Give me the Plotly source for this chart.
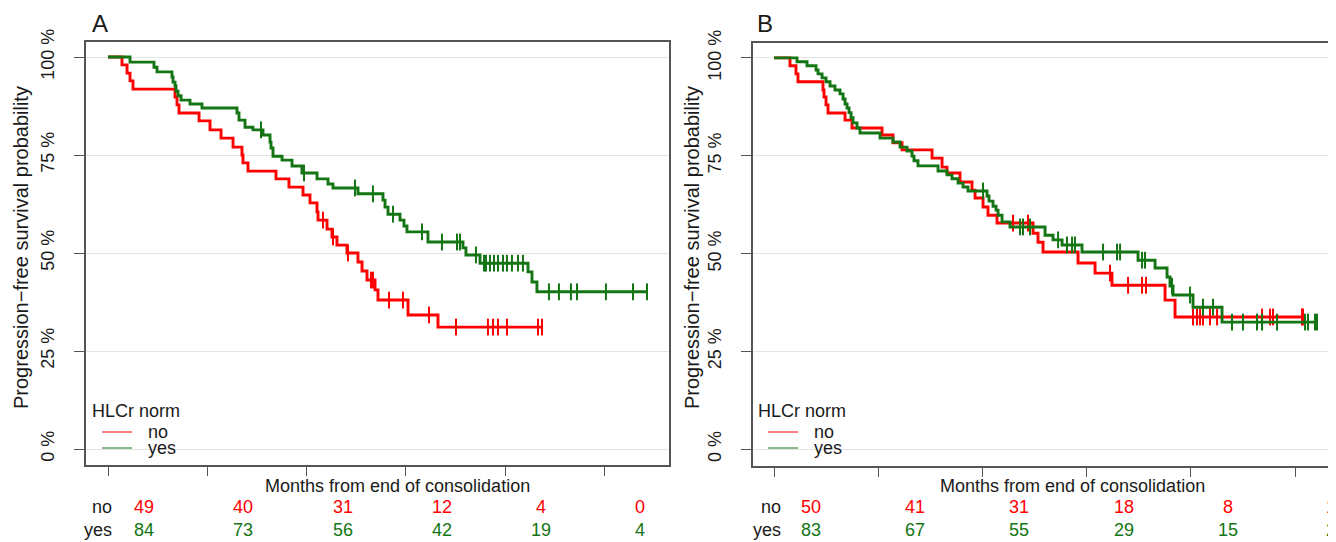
import plotly.graph_objects as go

W, H = 1336, 542
OFF = 8  # the page body margin offsets the figure by 8 px
FW, FH = 1372 - OFF, H - OFF  # panel B runs past the right edge of the window, as in the source

# ---------------- data ----------------
risk_times = [0, 12, 24, 36, 48, 60]
y_ticks = [0, 25, 50, 75, 100]
y_ticktext = ["0 %", "25 %", "50 %", "75 %", "100 %"]

# Panel A, HLCr norm = no
a_no_t = [1.69, 2.30, 2.66, 3.02, 8.10, 8.34, 8.58, 11.00, 12.33, 13.66, 15.11, 16.19, 16.31, 16.92,
          20.30, 21.87, 23.57, 24.41, 25.26, 25.38, 26.47, 27.07, 27.67, 28.88, 30.21, 30.70, 31.30,
          32.27, 32.63, 36.26, 39.88]
a_no_s = [98.0, 95.9, 93.9, 91.8, 89.8, 87.8, 85.7, 83.7, 81.4, 79.3, 77.0, 75.0, 73.0, 70.9,
          68.9, 66.8, 64.8, 62.8, 60.5, 58.4, 56.1, 54.1, 52.0, 50.0, 47.7, 45.4, 43.1,
          40.6, 38.0, 34.2, 31.1]
a_no_cens_t = [25.98, 27.19, 29.00, 31.78, 32.02, 33.96, 35.65, 38.79, 42.06, 45.92, 46.53, 47.13,
               48.22, 51.97, 52.45]
a_no_cens_s = [58.4, 54.1, 50.0, 43.1, 43.1, 38.0, 38.0, 34.2, 31.1, 31.1, 31.1, 31.1,
               31.1, 31.1, 31.1]

# Panel A, HLCr norm = yes
a_yes_t = [2.66, 5.56, 5.92, 7.73, 7.86, 8.10, 8.22, 8.46, 8.82, 9.91, 11.36, 15.59, 15.83, 16.56,
           17.52, 18.73, 19.58, 19.70, 19.94, 21.03, 22.24, 23.44, 25.26, 26.59, 27.19, 30.21,
           33.23, 33.48, 33.84, 35.29, 35.77, 36.13, 38.67, 42.90, 43.26, 44.96, 50.76, 51.24, 51.84]
a_yes_s = [98.7, 97.4, 96.2, 94.9, 93.6, 92.6, 91.3, 90.1, 89.0, 88.0, 87.0, 85.7, 83.9, 82.1,
           81.4, 80.1, 78.3, 76.8, 74.7, 73.7, 72.2, 70.4, 68.9, 67.6, 66.6, 65.1,
           63.5, 61.7, 59.9, 58.4, 56.9, 55.4, 52.8, 51.3, 49.5, 47.4, 45.2, 42.6, 40.1]
a_yes_cens_t = [18.49, 23.69, 29.85, 32.02, 34.44, 37.95, 40.36, 42.18, 42.54, 44.47,
                45.44, 45.68, 46.16, 46.65, 47.13, 47.74, 48.22, 48.82, 49.55, 50.15,
                53.29, 54.50, 55.95, 56.68, 60.18, 63.45, 65.14]
a_yes_cens_s = [81.4, 70.4, 66.6, 65.1, 59.9, 55.4, 52.8, 52.8, 52.8, 49.5,
                47.4, 47.4, 47.4, 47.4, 47.4, 47.4, 47.4, 47.4, 47.4, 47.4,
                40.1, 40.1, 40.1, 40.1, 40.1, 40.1, 40.1]

# Panel B, HLCr norm = no
b_no_t = [1.84, 2.53, 2.76, 5.64, 5.76, 5.99, 6.22, 8.18, 8.98, 12.44, 13.70, 14.74, 18.20, 19.35,
          19.92, 21.42, 22.80, 23.15, 24.07, 24.64, 25.68, 29.83, 30.40, 30.98, 35.01, 36.97,
          38.92, 45.03, 46.18]
b_no_s = [98.0, 95.9, 93.9, 91.8, 90.0, 88.0, 85.9, 84.1, 82.1, 80.3, 78.3, 76.5, 74.4, 72.1,
          70.6, 68.3, 66.2, 64.2, 61.9, 59.8, 57.8, 55.2, 52.9, 50.4, 47.6, 45.0,
          41.9, 38.1, 33.8]
b_no_cens_t = [27.52, 29.25, 38.69, 40.77, 42.38, 42.84, 48.25, 48.71, 49.06, 49.40, 50.21, 51.02,
               56.20, 57.12, 57.46, 60.80, 60.92]
b_no_cens_s = [57.8, 57.8, 45.0, 41.9, 41.9, 41.9, 33.8, 33.8, 33.8, 33.8, 33.8, 33.8,
               33.8, 33.8, 33.8, 33.8, 33.8]

# Panel B, HLCr norm = yes
b_yes_t = [2.65, 3.80, 4.84, 5.07, 5.53, 5.99, 6.45, 7.02, 7.60, 7.95, 8.18, 8.41, 8.64, 8.87,
           9.10, 9.56, 9.90, 12.21, 13.70, 14.51, 15.32, 15.89, 16.12, 16.58, 18.89, 19.92,
           20.50, 21.19, 21.77, 22.34, 24.53, 24.76, 25.22, 25.57, 25.80, 26.26, 27.18, 31.21,
           32.13, 33.17, 35.47, 41.92, 43.88, 45.26, 45.60, 45.95, 48.25, 51.59]
b_yes_s = [99.0, 98.0, 96.9, 95.9, 94.9, 93.9, 92.8, 91.8, 90.8, 89.5, 88.2, 87.2, 86.0, 84.7,
           83.4, 82.1, 80.8, 79.5, 78.5, 77.2, 76.2, 74.9, 73.7, 72.4, 71.1, 70.1,
           69.1, 68.0, 67.0, 66.0, 64.7, 63.4, 62.1, 61.1, 59.8, 58.1, 56.8, 54.7,
           53.5, 52.2, 50.4, 48.3, 46.3, 44.0, 41.7, 39.4, 36.3, 32.5]
b_yes_cens_t = [24.07, 28.33, 28.67, 29.48, 32.71, 33.74, 34.32, 34.66, 37.89, 39.50, 39.85,
                42.38, 42.72, 45.83, 47.90, 49.40, 50.55, 52.74, 54.01, 55.62, 56.20, 57.93,
                61.15, 61.49, 62.30, 62.53]
b_yes_cens_s = [66.0, 56.8, 56.8, 56.8, 53.5, 52.2, 52.2, 52.2, 50.4, 50.4, 50.4,
                48.3, 48.3, 41.7, 39.4, 36.3, 36.3, 32.5, 32.5, 32.5, 32.5, 32.5,
                32.5, 32.5, 32.5, 32.5]

# Numbers at risk
groups = ["no", "yes"]
a_risk_no = [49, 40, 31, 12, 4, 0]
a_risk_yes = [84, 73, 56, 42, 19, 4]
b_risk_no = [50, 41, 31, 18, 8, 1]
b_risk_yes = [83, 67, 55, 29, 15, 2]

# ---------------- style ----------------
RED = "#ff0000"
GREEN = "#137513"
FONT = "Liberation Sans, Arial, Helvetica, sans-serif"
FS = 18
BOX = "#555555"
GRID = "#e4e4e4"
TXT = "#1a1a1a"


def px(x):
    return (x - OFF) / FW


def py(y):
    return 1 - (y - OFF) / FH


fig = go.Figure()


def add_curve(t, s, ct, cs, color, xa, ya):
    end = max(ct[-1], t[-1])
    xs = [0] + list(t) + [end]
    ys = [100] + list(s) + [s[-1]]
    fig.add_trace(go.Scatter(x=xs, y=ys, mode="lines", line=dict(color=color, width=2.9, shape="hv"),
                             xaxis=xa, yaxis=ya, showlegend=False, hoverinfo="skip"))
    fig.add_trace(go.Scatter(x=ct, y=cs, mode="markers",
                             marker=dict(symbol="line-ns-open", size=12, color=color,
                                         line=dict(color=color, width=2)),
                             xaxis=xa, yaxis=ya, showlegend=False, hoverinfo="skip"))


add_curve(a_no_t, a_no_s, a_no_cens_t, a_no_cens_s, RED, "x", "y")
add_curve(a_yes_t, a_yes_s, a_yes_cens_t, a_yes_cens_s, GREEN, "x", "y")
add_curve(b_no_t, b_no_s, b_no_cens_t, b_no_cens_s, RED, "x2", "y2")
add_curve(b_yes_t, b_yes_s, b_yes_cens_t, b_yes_cens_s, GREEN, "x2", "y2")

xaxis_common = dict(tickvals=risk_times, showticklabels=False, ticks="outside", ticklen=9,
                    tickcolor=BOX, tickwidth=1.2, showgrid=False, zeroline=False,
                    showline=True, linecolor=BOX, linewidth=1.5, mirror=True, automargin=False)
yaxis_common = dict(tickvals=y_ticks, ticktext=y_ticktext, tickangle=-90, ticks="outside",
                    ticklen=10, tickcolor=BOX, tickwidth=1.2, showgrid=True, gridcolor=GRID,
                    gridwidth=1, zeroline=False, showline=True, linecolor=BOX, linewidth=1.5,
                    tickfont=dict(size=FS, color=TXT, family=FONT), ticklabelstandoff=13,
                    automargin=False, mirror=True)

fig.update_layout(
    width=FW, height=FH, margin=dict(l=0, r=0, t=0, b=0, autoexpand=False),
    paper_bgcolor="white", plot_bgcolor="white",
    font=dict(family=FONT, size=FS, color=TXT),
    xaxis=dict(domain=[px(86), px(669)], range=[-2.66, 67.8], anchor="y", **xaxis_common),
    yaxis=dict(domain=[py(465), py(42)], range=[-4.08, 103.83], anchor="x", **yaxis_common),
    xaxis2=dict(domain=[px(753), px(1364)], range=[-2.42, 67.94], anchor="y2", **xaxis_common),
    yaxis2=dict(domain=[py(466), py(43)], range=[-4.27, 103.8], anchor="x2", **yaxis_common),
)

ann = []


def text(x, y, s, size=FS, color=TXT, xanchor="center", xref="paper", xshift=0, angle=0):
    ann.append(dict(x=x, y=y, xref=xref, yref="paper", text=s, showarrow=False,
                    font=dict(size=size, color=color, family=FONT), xanchor=xanchor,
                    yanchor="middle", xshift=xshift, textangle=angle))


panels = [
    dict(label="A", lab_x=90, ylab_x=21, xt_x=397.5, xref="x", risk=(a_risk_no, a_risk_yes),
         rl_x=114, leg_x=90, line_x0=102, line_x1=132, leg_tx=146, shift=36),
    dict(label="B", lab_x=755, ylab_x=692, xt_x=1072.5, xref="x2", risk=(b_risk_no, b_risk_yes),
         rl_x=783, leg_x=756, line_x0=768, line_x1=798, leg_tx=812, shift=37),
]

shapes = []
for p in panels:
    text(px(p["lab_x"]), py(24), p["label"], size=24, xanchor="left")
    text(px(p["ylab_x"]), py(248), "Progression\u2212free survival probability", size=20, angle=-90)
    text(px(p["xt_x"]), py(486), "Months from end of consolidation")
    for row, (g, vals, col) in enumerate(zip(groups, p["risk"], [RED, GREEN])):
        yy = py(507 + row * 23)
        text(px(p["rl_x"]), yy, g, xanchor="right")
        for t, v in zip(risk_times, vals):
            # the last column of panel B sits right at the window edge
            if p["label"] == "B" and t == risk_times[-1]:
                text(t, yy, str(v), color=col, xref=p["xref"], xanchor="left", xshift=p["shift"] - 8)
            else:
                text(t, yy, str(v), color=col, xref=p["xref"], xshift=p["shift"])
    # legend
    text(px(p["leg_x"]), py(411), "HLCr norm", xanchor="left")
    for row, (g, col) in enumerate(zip(groups, [RED, GREEN])):
        yl = 432 + row * 16
        shapes.append(dict(type="line", xref="paper", yref="paper", x0=px(p["line_x0"]),
                           x1=px(p["line_x1"]), y0=py(yl), y1=py(yl),
                           line=dict(color=col, width=1)))
        text(px(p["leg_tx"]), py(yl), g, xanchor="left")

fig.update_layout(annotations=ann, shapes=shapes)

fig.write_html("out.html")
